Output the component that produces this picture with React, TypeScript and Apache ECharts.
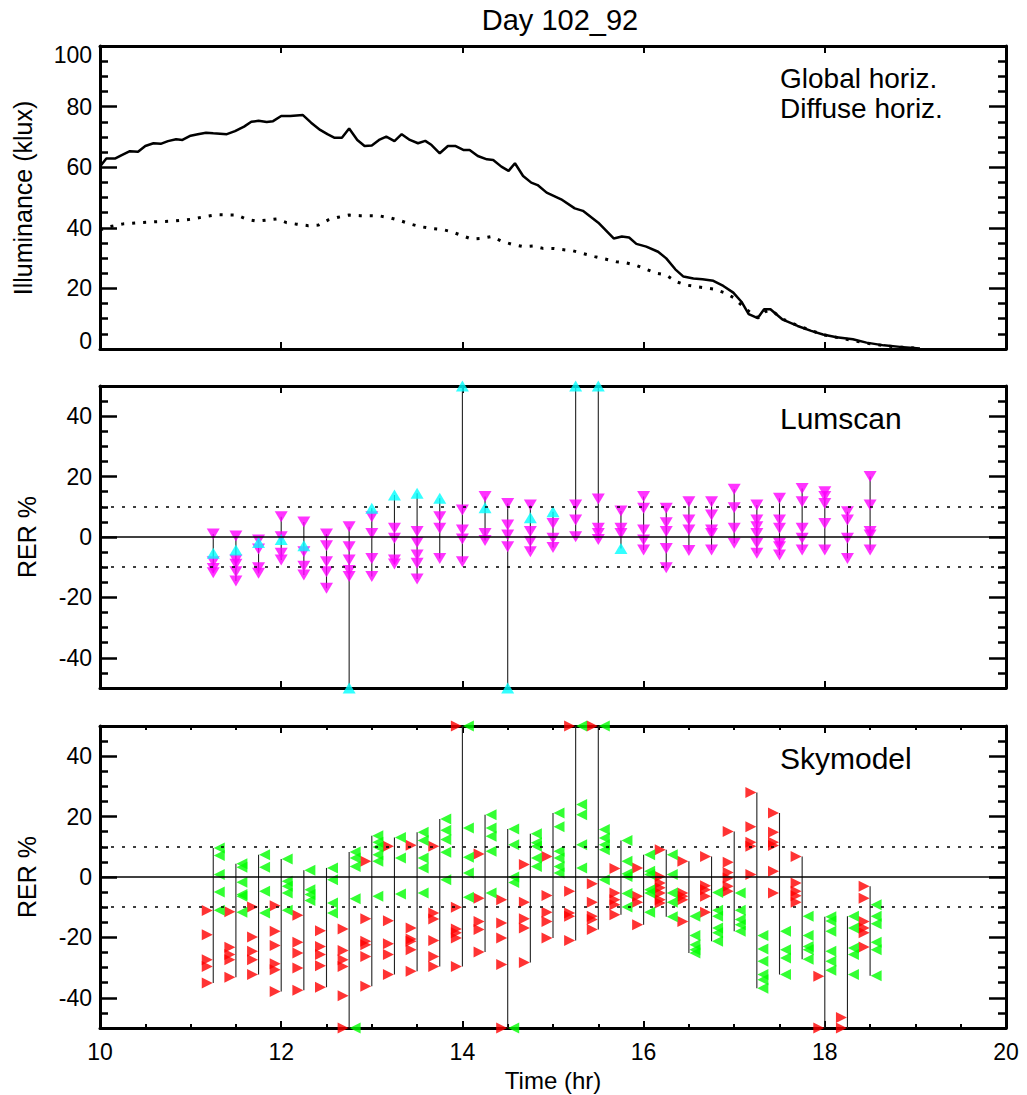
import React, { useEffect, useRef } from "react";
import * as echarts from "echarts";

const FONT = '"Liberation Sans", Arial, Helvetica, sans-serif';

// ---------- Top panel: illuminance (klux) ----------
const globalTime = [10.0, 10.07, 10.17, 10.24, 10.33, 10.42, 10.5, 10.59, 10.67, 10.75, 10.84, 10.91, 11.0, 11.08, 11.17, 11.25, 11.4, 11.49, 11.59, 11.67, 11.75, 11.84, 11.91, 12.0, 12.1, 12.24, 12.33, 12.43, 12.51, 12.59, 12.67, 12.75, 12.84, 12.92, 13.0, 13.08, 13.16, 13.25, 13.33, 13.42, 13.51, 13.59, 13.66, 13.75, 13.84, 13.92, 14.01, 14.08, 14.17, 14.27, 14.34, 14.43, 14.51, 14.58, 14.67, 14.76, 14.83, 14.93, 15.09, 15.24, 15.33, 15.5, 15.67, 15.76, 15.84, 15.92, 16.03, 16.16, 16.25, 16.35, 16.44, 16.55, 16.65, 16.77, 16.88, 16.99, 17.08, 17.16, 17.26, 17.33, 17.4, 17.53, 17.7, 17.85, 17.98, 18.13, 18.31, 18.46, 18.65, 18.83, 19.05];
const globalValue = [60.2, 62.9, 62.9, 64.0, 65.3, 65.1, 67.0, 67.9, 67.7, 68.6, 69.2, 69.0, 70.4, 70.9, 71.4, 71.2, 70.9, 71.9, 73.4, 75.0, 75.3, 74.9, 75.2, 76.9, 76.9, 77.2, 74.7, 72.3, 70.9, 69.7, 69.7, 72.8, 69.0, 67.0, 67.2, 69.0, 70.1, 68.6, 70.9, 69.0, 67.9, 68.7, 67.3, 64.6, 67.0, 67.0, 65.7, 65.7, 63.7, 62.6, 62.4, 60.2, 58.8, 61.3, 57.1, 54.9, 54.1, 51.6, 49.4, 46.4, 45.6, 41.7, 36.5, 37.1, 36.8, 34.7, 33.8, 32.1, 29.9, 26.3, 23.9, 23.3, 23.0, 22.5, 20.8, 18.6, 15.6, 11.5, 10.2, 13.1, 13.1, 9.8, 7.6, 6.0, 4.8, 3.9, 3.2, 2.1, 1.2, 0.7, 0.2];

const diffuseTime = [10.0, 10.11, 10.26, 10.44, 10.62, 10.81, 11.0, 11.16, 11.29, 11.51, 11.62, 11.73, 11.95, 12.06, 12.17, 12.3, 12.41, 12.52, 12.63, 12.75, 12.87, 12.98, 13.09, 13.2, 13.31, 13.42, 13.53, 13.66, 13.77, 13.88, 13.99, 14.1, 14.21, 14.32, 14.43, 14.54, 14.67, 14.78, 14.89, 15.0, 15.22, 15.46, 15.7, 15.8, 15.91, 16.03, 16.14, 16.25, 16.36, 16.47, 16.6, 16.77, 16.9, 16.99, 17.1, 17.21, 17.27, 17.34, 17.41, 17.54, 17.73, 17.98, 18.24, 18.46, 18.68, 19.05];
const diffuseValue = [39.3, 40.4, 41.3, 41.7, 42.0, 42.2, 42.8, 43.7, 44.3, 44.2, 42.8, 42.2, 42.9, 41.7, 41.2, 40.7, 40.9, 42.6, 43.5, 44.2, 44.0, 44.0, 43.9, 43.3, 42.4, 41.3, 40.4, 39.8, 39.5, 38.7, 37.5, 36.3, 36.5, 37.1, 35.6, 34.6, 33.8, 34.0, 33.2, 33.2, 32.4, 30.5, 28.8, 28.5, 27.7, 26.3, 25.0, 24.4, 22.2, 21.1, 20.5, 19.8, 18.5, 17.0, 14.0, 11.2, 10.3, 12.3, 12.8, 9.8, 7.4, 4.7, 3.2, 1.9, 1.0, 0.2];

// ---------- Middle panel: Lumscan RER % ----------
const lumTimes = [11.25, 11.5, 11.75, 12, 12.25, 12.5, 12.75, 13, 13.25, 13.5, 13.75, 14, 14.25, 14.5, 14.75, 15, 15.25, 15.5, 15.75, 16, 16.25, 16.5, 16.75, 17, 17.25, 17.5, 17.75, 18, 18.25, 18.5];
const lumDown: number[][] = [
  [1.0, -8.2, -10.4, -11.8],
  [0.3, -7.6, -9.0, -11.5, -14.6],
  [-1.0, -4.0, -10.2, -12.0],
  [6.7, 0.1, -5.4, -7.6],
  [5.0, -4.9, -9.7, -12.6],
  [1.0, -2.9, -8.2, -11.5, -17.0],
  [3.4, -3.2, -7.6, -11.1, -13.1],
  [6.7, 1.2, -7.1, -13.1],
  [2.9, -0.4, -7.6, -8.9],
  [1.8, -1.8, -6.0, -8.7, -13.9],
  [6.7, 2.9, -7.1],
  [8.9, 2.3, -0.7, -8.2],
  [13.4, 1.2, -1.2],
  [11.1, 4.0, 0.7, -3.2],
  [10.6, 1.8, -1.5, -4.9],
  [4.5, -0.4, -3.5],
  [10.6, 5.6, 0.1],
  [12.6, 2.9, 1.2, -0.8],
  [8.6, 2.9, 1.2],
  [13.4, 9.5, 2.3, -1.0, -4.3],
  [9.5, 4.7, 1.8, -3.8, -10.2],
  [11.7, 5.6, 2.3, -4.5],
  [11.7, 7.3, 2.3, 1.2, -4.3],
  [15.8, 9.7, 2.9, -2.1],
  [10.6, 5.6, 3.4, 1.2, -2.1, -5.4],
  [12.8, 5.6, 2.9, -2.1, -3.2, -6.0],
  [16.1, 11.7, 2.9, -0.4, -4.3],
  [15.0, 13.4, 11.1, 4.5, -4.3],
  [8.4, 5.6, -0.4, -7.1],
  [20.0, 10.6, 1.8, 0.7, -4.3],
];
const lumUp: (number | null)[] = [-5.4, -4.3, -1.8, -0.8, -2.9, null, -50, 9.5, 13.9, 14.5, 12.8, 50, 9.7, -50, 6.4, 8.4, 50, 50, -3.8, null, null, null, null, null, null, null, null, null, null, null];

// ---------- Bottom panel: Skymodel RER % ----------
const skyTimes = [11.25, 11.5, 11.75, 12, 12.25, 12.5, 12.75, 13, 13.25, 13.5, 13.75, 14, 14.25, 14.5, 14.75, 15, 15.25, 15.5, 15.75, 16, 16.25, 16.5, 16.75, 17, 17.25, 17.5, 17.75, 18, 18.25, 18.5];
const skyRed: number[][] = [
  [-11.1, -19.1, -27.4, -29.6, -35.1],
  [-11.5, -23.3, -25.7, -27.4, -33.2],
  [-9.9, -19.9, -24.6, -27.4, -32.3],
  [-9.5, -18.0, -22.7, -28.7, -30.7, -37.9],
  [-12.7, -21.6, -25.2, -30.1, -37.5],
  [-17.8, -23.0, -25.7, -29.4, -36.5],
  [-17.2, -24.3, -27.4, -29.6, -39.3, -50],
  [5.2, -13.8, -21.3, -22.4, -26.3, -36.2],
  [10.2, -14.5, -22.1, -25.7, -32.3],
  [10.5, -16.9, -20.5, -21.3, -24.1, -31.2],
  [10.2, -11.9, -13.9, -21.0, -26.3, -29.6],
  [50, -10.0, -17.2, -18.5, -20.2, -29.6],
  [7.6, -7.0, -14.7, -17.4, -24.8],
  [-7.5, -15.2, -20.2, -29.0, -50],
  [4.1, -8.4, -13.8, -16.9, -28.3],
  [6.8, -6.1, -11.7, -14.7, -20.2],
  [50, -4.7, -11.9, -13.0, -21.0],
  [50, -2.2, -8.4, -13.0, -14.1, -17.4],
  [2.8, -5.3, -7.5, -9.2, -12.5],
  [3.0, -6.4, -8.4, -15.8],
  [9.0, 0.2, -2.0, -3.6, -5.3, -7.5, -8.6],
  [5.2, -5.3, -6.4, -7.5, -14.7],
  [6.8, -2.9, -4.2, -6.4, -11.7],
  [15.1, 4.9, 1.5, -0.3, -3.1, -4.7],
  [28.0, 16.6, 11.5, 10.2, 0.8],
  [21.2, 14.8, 11.5, 10.4, 1.9, -5.3],
  [6.8, -2.0, -4.7, -6.2, -8.4],
  [-32.9, -50],
  [-46.5, -50],
  [-3.1, -7.0, -14.7, -16.9, -18.5, -23.2],
];
const skyGreen: number[][] = [
  [9.6, 7.1, 0.8, -5.0, -11.0],
  [4.4, 3.2, -1.7, -5.8, -6.4, -11.7],
  [7.4, 3.2, -4.7, -11.9],
  [6.0, -1.4, -3.1, -5.3, -11.0],
  [2.2, -4.2, -5.8, -7.8],
  [3.0, -0.9, -8.6, -11.9],
  [8.3, 6.3, 3.5, -7.2, -50],
  [13.7, 11.5, 9.9, 7.4, 5.2, -6.4],
  [13.1, 6.3, -5.6],
  [14.8, 12.1, 6.3, 3.0, -5.3],
  [19.2, 15.5, 12.4, 8.2, -0.9],
  [50, 16.2, 6.5, 1.3, -6.7],
  [20.6, 16.2, 13.5, 8.5, -5.3],
  [15.9, 10.7, 0.0, -1.8, -50],
  [14.3, 11.3, 10.2, 6.3, 3.5],
  [21.2, 16.6, 8.5, 6.3, 3.5, 1.3],
  [50, 24.0, 20.6, 10.7, 3.0],
  [50, 15.7, 12.9, 10.7, 9.0, -0.9],
  [12.1, 5.2, 1.1, 0.2, -5.5, -9.9],
  [7.4, 1.9, 0.8, -4.2, -5.3, -11.7],
  [7.4, 0.8, -5.3, -8.4, -13.2],
  [-13.0, -19.4, -22.4, -24.1, -25.2],
  [-5.1, -11.0, -13.0, -16.9, -18.5, -21.3],
  [-5.3, -11.0, -14.1, -15.8, -18.0],
  [-19.4, -23.8, -27.9, -32.3, -34.0, -36.8],
  [-18.0, -24.1, -26.8, -32.3],
  [-13.0, -19.4, -23.0, -24.1, -27.2],
  [-13.2, -14.6, -18.0, -24.6, -27.9, -30.9],
  [-13.0, -16.9, -23.5, -25.7, -32.3],
  [-9.2, -13.0, -15.5, -21.6, -24.1, -32.7],
];

// tick values
const topMajor = [0, 20, 40, 60, 80, 100];
const rerMajor = [-40, -20, 0, 20, 40];
const rerMinor = [-45, -35, -30, -25, -15, -10, -5, 5, 10, 15, 25, 30, 35, 45];
const xTicks = [10, 12, 14, 16, 18, 20];

// ---------- helpers ----------
const zip = (t: number[], v: number[]) => t.map((x, i) => [x, v[i]]);
const flatten = (t: number[], groups: (number[] | null)[]) => {
  const out: number[][] = [];
  groups.forEach((g, i) => (g || []).forEach((v) => out.push([t[i], v])));
  return out;
};
const colRanges = (t: number[], a: number[][], b: (number[] | null)[]) =>
  t.map((x, i) => {
    const vals = [...a[i], ...(b[i] || [])];
    return [x, Math.min(...vals), Math.max(...vals)];
  });

const BLACK = "#000";

function xAxis(gi: number, pos: "top" | "bottom", showLabel: boolean, minor: boolean) {
  return {
    type: "value",
    gridIndex: gi,
    position: pos,
    min: xTicks[0],
    max: xTicks[xTicks.length - 1],
    interval: 2,
    axisLine: { show: true, onZero: false, lineStyle: { color: BLACK, width: 3 } },
    axisTick: { show: true, inside: true, length: 7, lineStyle: { color: BLACK, width: 2 } },
    minorTick: { show: minor, splitNumber: 4, length: 4, lineStyle: { color: BLACK, width: 2 } },
    axisLabel: { show: showLabel, margin: 12, fontSize: 23, color: BLACK, fontFamily: FONT },
    splitLine: { show: false },
    minorSplitLine: { show: false },
  };
}

function yRer(gi: number, pos: "left" | "right", kind: "major" | "minor") {
  const major = kind === "major";
  return {
    type: "value",
    gridIndex: gi,
    position: pos,
    min: -50,
    max: 50,
    axisLine: { show: major, onZero: false, lineStyle: { color: BLACK, width: 3 } },
    axisTick: {
      show: true,
      inside: true,
      length: major ? 17 : 8,
      customValues: major ? rerMajor : rerMinor,
      lineStyle: { color: BLACK, width: 2.5 },
    },
    axisLabel: {
      show: major && pos === "left",
      customValues: rerMajor,
      margin: 8,
      fontSize: 23,
      color: BLACK,
      fontFamily: FONT,
    },
    splitLine: { show: false },
  };
}

function yTop(pos: "left" | "right") {
  return {
    type: "value",
    gridIndex: 0,
    position: pos,
    min: topMajor[0],
    max: topMajor[topMajor.length - 1],
    interval: 20,
    axisLine: { show: true, onZero: false, lineStyle: { color: BLACK, width: 3 } },
    axisTick: { show: true, inside: true, length: 17, lineStyle: { color: BLACK, width: 2.5 } },
    minorTick: { show: true, splitNumber: 4, length: 8, lineStyle: { color: BLACK, width: 2.5 } },
    axisLabel: {
      show: pos === "left",
      margin: 8,
      fontSize: 23,
      lineHeight: 17,
      color: BLACK,
      fontFamily: FONT,
      verticalAlignMinLabel: "bottom",
      verticalAlignMaxLabel: "top",
    },
    splitLine: { show: false },
    minorSplitLine: { show: false },
  };
}

const DOWN = "path://M0,0L12,0L6,10Z";
const UP = "path://M6,0L12,10L0,10Z";
const RIGHT = "path://M0,0L10,5L0,10Z";
const LEFT = "path://M10,0L0,5L10,10Z";

const vLine = (xi: number, yi: number, data: number[][]) => ({
  type: "custom",
  xAxisIndex: xi,
  yAxisIndex: yi,
  z: 1,
  clip: false,
  silent: true,
  data,
  encode: { x: 0, y: [1, 2] },
  renderItem: (_p: any, api: any) => {
    const a = api.coord([api.value(0), api.value(1)]);
    const b = api.coord([api.value(0), api.value(2)]);
    return {
      type: "line",
      shape: { x1: a[0], y1: a[1], x2: b[0], y2: b[1] },
      style: { stroke: "#222", lineWidth: 1.1 },
    };
  },
});

const refLines = {
  silent: true,
  symbol: ["none", "none"],
  label: { show: false },
  lineStyle: { color: BLACK, width: 1.5 },
  data: [
    { yAxis: 0, lineStyle: { type: "solid", color: BLACK, width: 1.5 } },
    { yAxis: 10, lineStyle: { type: [3, 8], color: BLACK, width: 1.5 } },
    { yAxis: -10, lineStyle: { type: [3, 8], color: BLACK, width: 1.5 } },
  ],
};

function buildOption() {
  const lumUpGroups = lumUp.map((v) => (v == null ? null : [v]));
  return {
    animation: false,
    backgroundColor: "#fff",
    textStyle: { fontFamily: FONT },
    grid: [
      { left: 100, top: 46, width: 906, height: 303, containLabel: false, outerBoundsMode: "none" },
      { left: 100, top: 386, width: 906, height: 302, containLabel: false, outerBoundsMode: "none" },
      { left: 100, top: 726, width: 906, height: 302, containLabel: false, outerBoundsMode: "none" },
    ],
    xAxis: [
      xAxis(0, "bottom", false, false),
      xAxis(0, "top", false, false),
      xAxis(1, "bottom", false, false),
      xAxis(1, "top", false, false),
      xAxis(2, "bottom", true, true),
      xAxis(2, "top", false, true),
    ],
    yAxis: [
      yTop("left"),
      yTop("right"),
      yRer(1, "left", "major"),
      yRer(1, "left", "minor"),
      yRer(1, "right", "major"),
      yRer(1, "right", "minor"),
      yRer(2, "left", "major"),
      yRer(2, "left", "minor"),
      yRer(2, "right", "major"),
      yRer(2, "right", "minor"),
    ],
    series: [
      {
        name: "Global horiz.",
        type: "line",
        xAxisIndex: 0,
        yAxisIndex: 0,
        data: zip(globalTime, globalValue),
        symbol: "none",
        showSymbol: false,
        lineStyle: { color: BLACK, width: 2.5 },
      },
      {
        name: "Diffuse horiz.",
        type: "line",
        xAxisIndex: 0,
        yAxisIndex: 0,
        data: zip(diffuseTime, diffuseValue),
        symbol: "none",
        showSymbol: false,
        lineStyle: { color: BLACK, width: 3, type: [3, 8] },
      },
      vLine(2, 2, colRanges(lumTimes, lumDown, lumUpGroups)),
      {
        type: "scatter",
        xAxisIndex: 2,
        yAxisIndex: 2,
        z: 3,
        clip: false,
        data: flatten(lumTimes, lumDown),
        symbol: DOWN,
        symbolSize: [13, 11],
        itemStyle: { color: "#ff00ff" },
        markLine: refLines,
      },
      {
        type: "scatter",
        xAxisIndex: 2,
        yAxisIndex: 2,
        z: 4,
        clip: false,
        data: flatten(lumTimes, lumUpGroups),
        symbol: UP,
        symbolSize: [13, 11],
        itemStyle: { color: "#00ffff" },
      },
      vLine(4, 6, colRanges(skyTimes, skyRed, skyGreen)),
      {
        type: "scatter",
        xAxisIndex: 4,
        yAxisIndex: 6,
        z: 3,
        clip: false,
        data: flatten(skyTimes, skyRed),
        symbol: RIGHT,
        symbolSize: [11, 11],
        symbolOffset: [-6, 0],
        itemStyle: { color: "#ff0000" },
        markLine: refLines,
      },
      {
        type: "scatter",
        xAxisIndex: 4,
        yAxisIndex: 6,
        z: 3,
        clip: false,
        data: flatten(skyTimes, skyGreen),
        symbol: LEFT,
        symbolSize: [11, 11],
        symbolOffset: [6, 0],
        itemStyle: { color: "#00ff00" },
      },
    ],
    graphic: [
      { type: "text", x: 560, y: 20, style: { text: "Day 102_92", fontSize: 29, fontFamily: FONT, fill: BLACK, align: "center", verticalAlign: "middle" } },
      { type: "text", x: 23, y: 198, rotation: Math.PI / 2, style: { text: "Illuminance (klux)", fontSize: 25, fontFamily: FONT, fill: BLACK, align: "center", verticalAlign: "middle" } },
      { type: "text", x: 27, y: 537, rotation: Math.PI / 2, style: { text: "RER %", fontSize: 25, fontFamily: FONT, fill: BLACK, align: "center", verticalAlign: "middle" } },
      { type: "text", x: 27, y: 877, rotation: Math.PI / 2, style: { text: "RER %", fontSize: 25, fontFamily: FONT, fill: BLACK, align: "center", verticalAlign: "middle" } },
      { type: "text", x: 553, y: 1080, style: { text: "Time (hr)", fontSize: 24, fontFamily: FONT, fill: BLACK, align: "center", verticalAlign: "middle" } },
      { type: "text", x: 780, y: 78, style: { text: "Global horiz.", fontSize: 28, fontFamily: FONT, fill: BLACK, align: "left", verticalAlign: "middle" } },
      { type: "text", x: 780, y: 108, style: { text: "Diffuse horiz.", fontSize: 28, fontFamily: FONT, fill: BLACK, align: "left", verticalAlign: "middle" } },
      { type: "text", x: 780, y: 418, style: { text: "Lumscan", fontSize: 30, fontFamily: FONT, fill: BLACK, align: "left", verticalAlign: "middle" } },
      { type: "text", x: 780, y: 758, style: { text: "Skymodel", fontSize: 30, fontFamily: FONT, fill: BLACK, align: "left", verticalAlign: "middle" } },
    ],
  };
}

export default function App() {
  const ref = useRef<HTMLDivElement>(null);
  useEffect(() => {
    document.body.style.margin = "0";
    const chart = echarts.init(ref.current as HTMLDivElement, null, { renderer: "svg" });
    chart.setOption(buildOption() as any);
    return () => chart.dispose();
  }, []);
  return <div ref={ref} style={{ width: 1027, height: 1095 }} />;
}
